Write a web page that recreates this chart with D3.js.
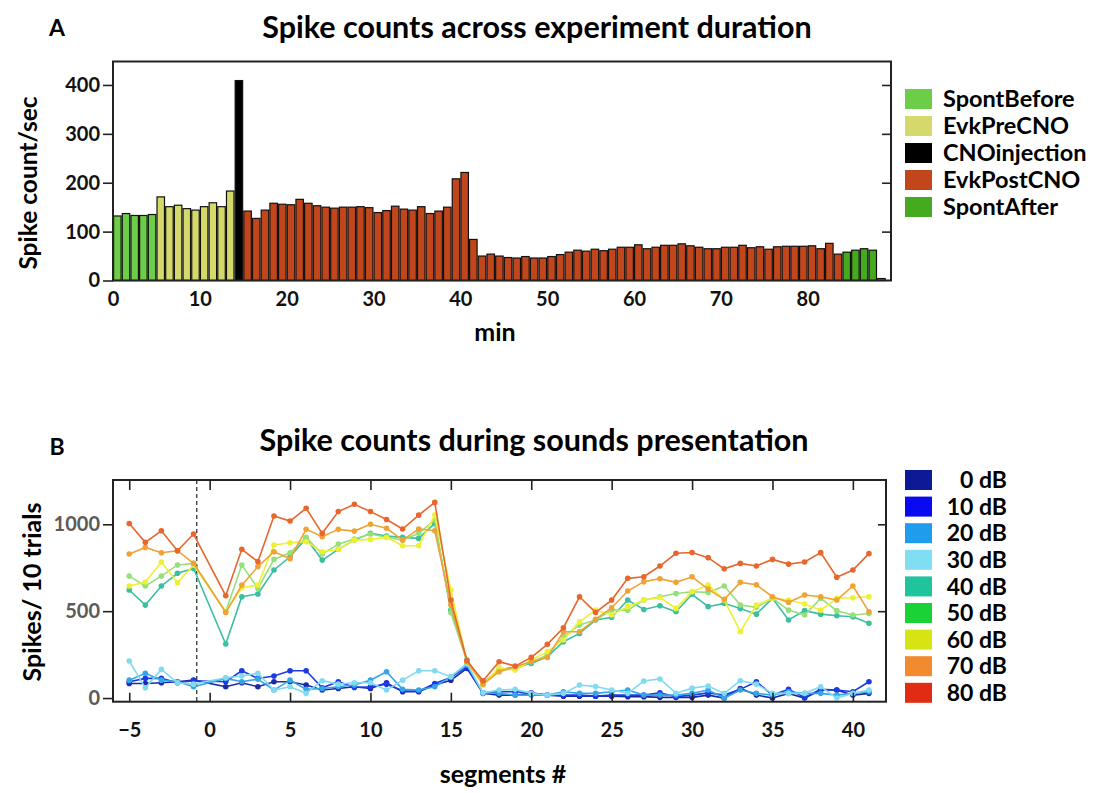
<!DOCTYPE html>
<html>
<head>
<meta charset="utf-8">
<script src="https://cdn.jsdelivr.net/npm/d3@7/dist/d3.min.js"></script>
<style>
  body { margin: 0; background: #fff; }
  svg text { font-family: Lato, "Open Sans", sans-serif; font-weight: 700; }
</style>
</head>
<body>
<svg id="fig" width="1094" height="793"></svg>
<script>
// ---------- Panel A: spike rate per minute, coloured by experiment phase ----------
const phaseNames  = ["SpontBefore", "EvkPreCNO", "CNOinjection", "EvkPostCNO", "SpontAfter"];
const phaseColors = ["#6ccd48", "#d5d96b", "#000000", "#c1461b", "#45aa1d"];
const phaseLengths = [5, 9, 1, 69, 5];   // minutes (bars) in each phase

const spikeRates = [
  // SpontBefore
  132, 137, 133, 133, 135,
  // EvkPreCNO
  171, 151, 154, 147, 144, 151, 159, 151, 183,
  // CNOinjection
  409,
  // EvkPostCNO
  142, 127, 144, 158, 156, 155, 166, 158, 153, 150, 148, 150, 150, 151,
  149, 139, 143, 152, 146, 144, 151, 137, 142, 150, 208, 221, 84, 50,
  54, 50, 47, 46, 49, 46, 46, 49, 53, 58, 62, 60, 64, 61, 64,
  68, 68, 73, 65, 68, 72, 72, 75, 71, 68, 65, 65, 68, 68, 72, 67,
  69, 64, 69, 70, 70, 70, 71, 65, 76, 54,
  // SpontAfter
  58, 62, 65, 62, 4
];
const minuteTicks = [0, 10, 20, 30, 40, 50, 60, 70, 80];
const rateTicks = [0, 100, 200, 300, 400];

// ---------- Panel B: spikes per 10 trials for each sound level ----------
const segments = [-5, -4, -3, -2, -1, 1, 2, 3, 4, 5, 6, 7, 8, 9, 10, 11, 12, 13, 14, 15,
  16, 17, 18, 19, 20, 21, 22, 23, 24, 25, 26, 27, 28, 29, 30, 31, 32, 33, 34, 35,
  36, 37, 38, 39, 40, 41];
const levelNames = ["0 dB", "10 dB", "20 dB", "30 dB", "40 dB", "50 dB", "60 dB", "70 dB", "80 dB"];
const levelKeyColors  = ["#0c1a98", "#0a0af0", "#1f9cec", "#80def2", "#1fc39c", "#1ad236", "#d6e414", "#f28a30", "#df2c12"];
const levelLineColors = ["#1a2aa6", "#1a3ae6", "#34a6e6", "#82daf0", "#3cbfa0", "#96e07c", "#eef032", "#f0a234", "#e8662c"];

const db0  = [84, 84, 88, 94, 103, 65, 88, 65, 94, 94, 75, 46, 55, 65,
  55, 88, 36, 36, 75, 103, 171, 27, 17, 17, 27, 17, 11, 11, 11, 11,
  8, 8, 4, 4, 4, 17, 0, 55, 17, 0, 27, 0, 46, 46, 17, 27];
const db10 = [94, 113, 113, 88, 100, 94, 157, 113, 127, 157, 157, 59, 94, 61,
  65, 80, 42, 40, 84, 119, 180, 30, 36, 36, 30, 17, 17, 17, 11, 17,
  17, 17, 30, 8, 17, 30, 17, 50, 94, 17, 50, 4, 50, 46, 36, 94];
const db20 = [103, 142, 103, 94, 65, 113, 94, 109, 46, 103, 50, 55, 65, 75,
  103, 151, 50, 46, 65, 123, 190, 30, 27, 17, 17, 17, 36, 27, 27, 36,
  46, 17, 17, 17, 27, 46, 0, 46, 27, 17, 36, 27, 27, 17, 27, 36];
const db30 = [213, 59, 165, 88, 80, 117, 127, 142, 46, 65, 27, 100, 80, 88,
  88, 46, 103, 157, 157, 123, 199, 30, 46, 50, 27, 17, 27, 75, 66, 46,
  27, 98, 110, 28, 57, 69, 27, 100, 80, 27, 27, 27, 65, 0, 27, 46];
const db40 = [622, 535, 645, 718, 746, 311, 583, 599, 737, 813, 919, 794, 856, 909,
  948, 932, 925, 919, 1005, 506, 219, 88, 161, 180, 199, 238, 324, 372, 449, 465,
  564, 510, 531, 497, 597, 526, 545, 516, 483, 574, 449, 503, 483, 474, 468, 430];
const db50 = [702, 645, 702, 766, 775, 497, 766, 631, 798, 836, 925, 829, 886, 915,
  944, 925, 909, 948, 1025, 491, 209, 84, 165, 165, 209, 247, 353, 420, 449, 506,
  506, 564, 583, 602, 612, 608, 645, 535, 522, 574, 506, 478, 574, 503, 478, 487];
const db60 = [645, 668, 783, 664, 766, 497, 635, 650, 881, 894, 900, 842, 856, 909,
  913, 925, 877, 877, 1053, 622, 209, 75, 176, 161, 219, 267, 334, 439, 506, 478,
  526, 564, 579, 516, 612, 650, 564, 382, 535, 574, 564, 541, 506, 574, 577, 583];
const db70 = [829, 867, 836, 848, 775, 493, 650, 756, 842, 802, 971, 929, 971, 961,
  1000, 977, 909, 973, 963, 535, 209, 80, 151, 180, 209, 234, 382, 382, 453, 520,
  616, 670, 687, 666, 698, 627, 568, 666, 652, 583, 551, 593, 583, 564, 645, 497];
const db80 = [1005, 896, 963, 848, 944, 589, 856, 785, 1048, 1019, 1092, 948, 1073, 1115,
  1073, 1028, 973, 1053, 1126, 564, 215, 100, 209, 184, 234, 309, 405, 583, 493, 564,
  689, 698, 760, 833, 838, 808, 744, 775, 760, 798, 771, 783, 837, 695, 737, 831];
const levelSeries = [db0, db10, db20, db30, db40, db50, db60, db70, db80];
const segmentTicks = [-5, 0, 5, 10, 15, 20, 25, 30, 35, 40];
const countTicks = [0, 500, 1000];
const injectionMark = -0.8;   // dashed marker for CNO injection time

// ---------- drawing ----------
const svg = d3.select("#fig");
svg.append("rect").attr("width", 1094).attr("height", 793).attr("fill", "#fff");

const frameColor = "#222";
const tickFont = 20;

function styleAxis(g, color) {
  g.select(".domain").remove();
  g.selectAll(".tick line").attr("stroke", frameColor).attr("stroke-width", 1.6);
  g.selectAll(".tick text").attr("fill", color).attr("font-size", tickFont)
    .attr("font-family", "Lato, sans-serif").attr("font-weight", 700);
}

// ===== Panel A =====
const A = { left: 113, right: 891, top: 61.5, bottom: 280.5 };
const xA = d3.scaleLinear().domain([0, 89.6]).range([A.left, A.right]);
const yA = d3.scaleLinear().domain([0, 448]).range([A.bottom, A.top]);

const phaseOfBar = [];
phaseLengths.forEach((n, p) => { for (let i = 0; i < n; i++) phaseOfBar.push(p); });

const gA = svg.append("g");
const pitchA = xA(1) - xA(0);
gA.selectAll("rect.bar").data(spikeRates).join("rect")
  .attr("class", "bar")
  .attr("x", (d, i) => xA(i) + 0.6)
  .attr("width", pitchA - 1.2)
  .attr("y", d => yA(d))
  .attr("height", d => yA(0) - yA(d))
  .attr("fill", (d, i) => phaseColors[phaseOfBar[i]])
  .attr("stroke", "#111")
  .attr("stroke-width", 1.2);

// frame
gA.append("rect").attr("x", A.left).attr("y", A.top)
  .attr("width", A.right - A.left).attr("height", A.bottom - A.top)
  .attr("fill", "none").attr("stroke", frameColor).attr("stroke-width", 2);

const axLA = gA.append("g").attr("transform", `translate(${A.left},0)`)
  .call(d3.axisLeft(yA).tickValues(rateTicks).tickFormat(d3.format("d"))
    .tickSize(10).tickPadding(3).tickSizeOuter(0));
styleAxis(axLA, "#111");
const axRA = gA.append("g").attr("transform", `translate(${A.right},0)`)
  .call(d3.axisRight(yA).tickValues(rateTicks.filter(v => v > 0)).tickSize(-9).tickFormat("").tickSizeOuter(0));
styleAxis(axRA, "#111");
const axBA = gA.append("g").attr("transform", `translate(0,${A.bottom})`)
  .call(d3.axisBottom(xA).tickValues(minuteTicks).tickFormat(d3.format("d"))
    .tickSize(0).tickPadding(11).tickSizeOuter(0));
styleAxis(axBA, "#111");

svg.append("text").attr("x", 57).attr("y", 36).attr("text-anchor", "middle")
  .attr("font-size", 23).text("A");
svg.append("text").attr("x", 537).attr("y", 38).attr("text-anchor", "middle")
  .attr("font-size", 30.5).text("Spike counts across experiment duration");
svg.append("text").attr("transform", "translate(37,183) rotate(-90)")
  .attr("text-anchor", "middle").attr("font-size", 24.5).text("Spike count/sec");
svg.append("text").attr("x", 495).attr("y", 341).attr("text-anchor", "middle")
  .attr("font-size", 25).text("min");

const legA = svg.append("g");
phaseNames.forEach((name, i) => {
  const cy = 99 + i * 27;
  legA.append("rect").attr("x", 905).attr("y", cy - 10).attr("width", 27).attr("height", 20)
    .attr("fill", phaseColors[i]);
  legA.append("text").attr("x", 943).attr("y", cy).attr("dy", "0.36em")
    .attr("font-size", 23.5).text(name);
});

// ===== Panel B =====
const B = { left: 113, right: 886, top: 480, bottom: 701.7 };
const xB = d3.scaleLinear().domain([-6.01, 42.06]).range([B.left, B.right]);
const yB = d3.scaleLinear().domain([-21, 1255]).range([B.bottom, B.top]);

const gB = svg.append("g");

gB.append("line")
  .attr("x1", xB(injectionMark)).attr("x2", xB(injectionMark))
  .attr("y1", B.top).attr("y2", B.bottom)
  .attr("stroke", "#111").attr("stroke-width", 1.1).attr("stroke-dasharray", "4,3");

const line = d3.line().x((d, i) => xB(segments[i])).y(d => yB(d));
levelSeries.forEach((vals, k) => {
  const g = gB.append("g");
  g.append("path").datum(vals).attr("d", line)
    .attr("fill", "none").attr("stroke", levelLineColors[k]).attr("stroke-width", 1.6);
  g.selectAll("circle").data(vals).join("circle")
    .attr("cx", (d, i) => xB(segments[i])).attr("cy", d => yB(d)).attr("r", 2.8)
    .attr("fill", levelLineColors[k]);
});

gB.append("rect").attr("x", B.left).attr("y", B.top)
  .attr("width", B.right - B.left).attr("height", B.bottom - B.top)
  .attr("fill", "none").attr("stroke", frameColor).attr("stroke-width", 2);

const axLB = gB.append("g").attr("transform", `translate(${B.left},0)`)
  .call(d3.axisLeft(yB).tickValues(countTicks).tickFormat(d3.format("d"))
    .tickSize(10).tickPadding(3).tickSizeOuter(0));
styleAxis(axLB, "#5a5a5a");
const axRB = gB.append("g").attr("transform", `translate(${B.right},0)`)
  .call(d3.axisRight(yB).tickValues([500, 1000]).tickSize(-8).tickFormat("").tickSizeOuter(0));
styleAxis(axRB, "#111");
const axTB = gB.append("g").attr("transform", `translate(0,${B.top})`)
  .call(d3.axisTop(xB).tickValues(segmentTicks).tickSize(-10).tickFormat("").tickSizeOuter(0));
styleAxis(axTB, "#111");
const axBB = gB.append("g").attr("transform", `translate(0,${B.bottom})`)
  .call(d3.axisBottom(xB).tickValues(segmentTicks).tickFormat(d3.format("d"))
    .tickSize(-9).tickPadding(21).tickSizeOuter(0));
styleAxis(axBB, "#111");

svg.append("text").attr("x", 57).attr("y", 455).attr("text-anchor", "middle")
  .attr("font-size", 23).text("B");
svg.append("text").attr("x", 534).attr("y", 451).attr("text-anchor", "middle")
  .attr("font-size", 30.5).text("Spike counts during sounds presentation");
svg.append("text").attr("transform", "translate(41,592) rotate(-90)")
  .attr("text-anchor", "middle").attr("font-size", 25).text("Spikes/ 10 trials");
svg.append("text").attr("x", 503).attr("y", 783).attr("text-anchor", "middle")
  .attr("font-size", 25).text("segments #");

const legB = svg.append("g");
levelNames.forEach((name, i) => {
  const cy = 480 + i * 26.6;
  legB.append("rect").attr("x", 905).attr("y", cy - 10).attr("width", 27).attr("height", 20)
    .attr("fill", levelKeyColors[i]);
  legB.append("text").attr("x", 1007).attr("y", cy).attr("dy", "0.36em")
    .attr("text-anchor", "end").attr("font-size", 23).text(name);
});
</script>
</body>
</html>
